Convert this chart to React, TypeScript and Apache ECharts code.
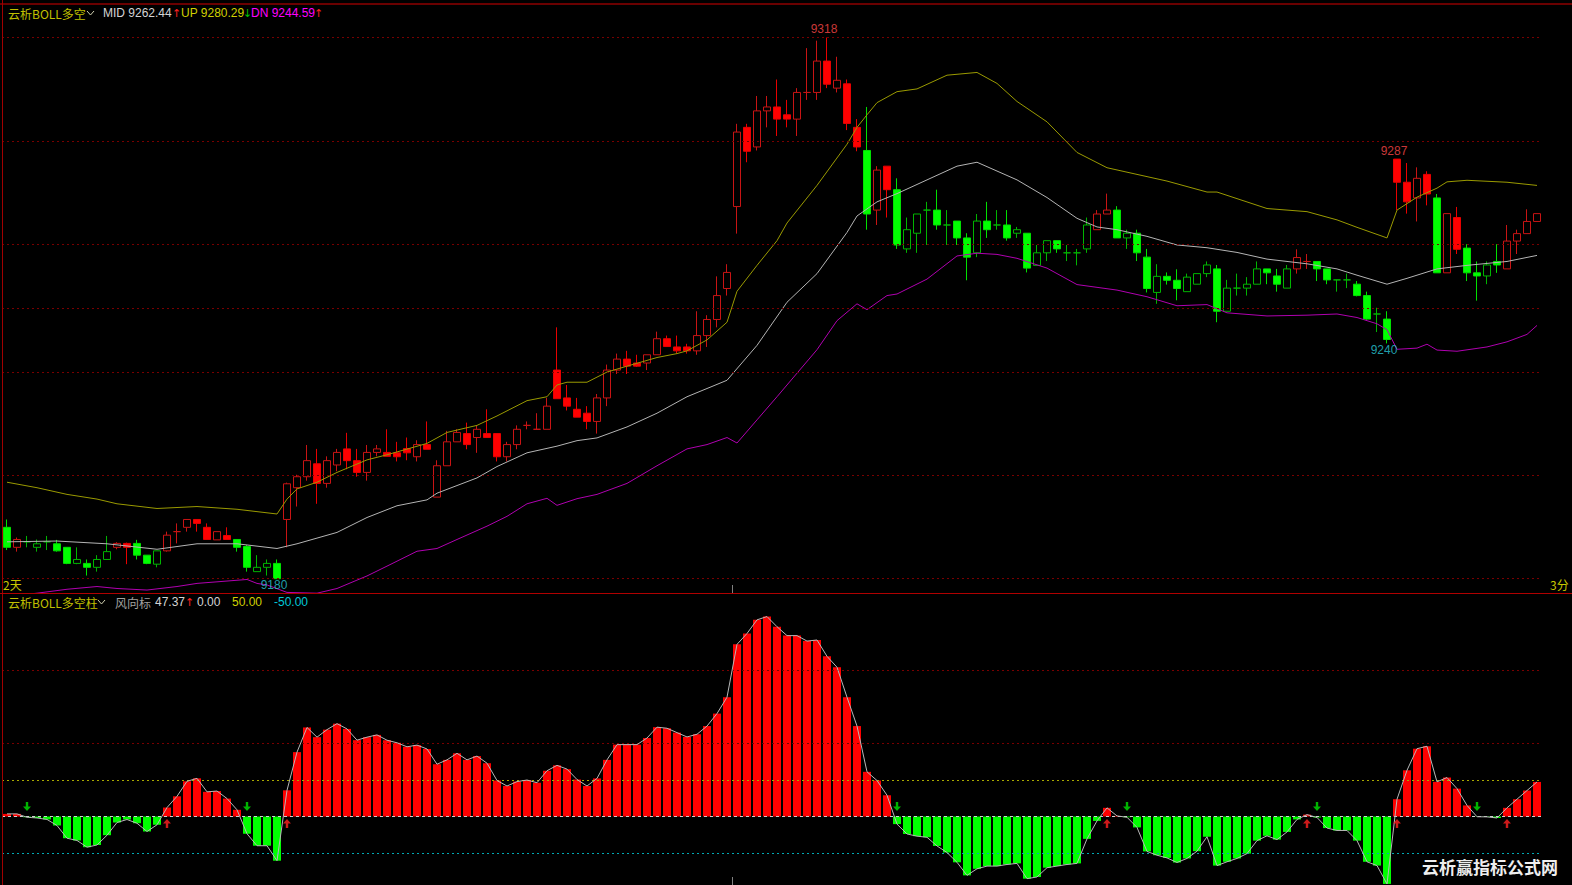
import React, { useEffect, useRef } from "react";
import * as echarts from "echarts";

// ---------- DATA ----------
const opens = [
  9193.1, 9188.0, 9189.4, 9188.0, 9189.4, 9188.9, 9188.0, 9183.9, 9183.9, 9182.9,
  9184.9, 9188.0, 9189.0, 9189.0, 9186.0, 9183.7, 9187.1, 9192.0, 9193.1, 9195.1,
  9193.1, 9189.9, 9191.0, 9190.0, 9188.2, 9181.8, 9182.9, 9183.9, 9195.1, 9203.2,
  9206.0, 9209.3, 9204.3, 9209.0, 9213.1, 9210.1, 9207.1, 9212.2, 9212.2, 9212.1,
  9213.2, 9211.1, 9214.2, 9200.8, 9208.8, 9214.9, 9217.0, 9216.0, 9217.0, 9217.0,
  9211.1, 9214.2, 9219.1, 9218.1, 9218.1, 9233.2, 9226.1, 9223.2, 9222.2, 9220.1,
  9226.1, 9233.2, 9236.0, 9235.0, 9235.0, 9237.1, 9241.2, 9239.1, 9239.1, 9238.1,
  9242.0, 9246.1, 9254.0, 9274.9, 9295.1, 9290.1, 9299.3, 9300.3, 9298.3, 9297.2,
  9304.0, 9304.0, 9312.0, 9305.1, 9306.2, 9295.1, 9289.2, 9274.0, 9285.2, 9279.2,
  9264.1, 9268.1, 9274.0, 9274.0, 9270.2, 9271.2, 9266.9, 9263.1, 9271.2, 9270.2,
  9270.2, 9268.1, 9268.1, 9259.9, 9263.1, 9266.2, 9263.1, 9263.1, 9264.1, 9269.0,
  9273.0, 9274.0, 9266.9, 9268.1, 9262.0, 9253.0, 9257.1, 9256.1, 9253.2, 9255.1,
  9257.8, 9259.0, 9248.2, 9254.1, 9254.1, 9255.1, 9259.0, 9257.2, 9254.1, 9259.0,
  9260.9, 9260.9, 9259.0, 9256.2, 9256.2, 9255.1, 9252.2, 9247.5, 9246.2, 9287.0,
  9281.1, 9277.1, 9283.1, 9277.1, 9258.0, 9272.1, 9264.3, 9258.0, 9257.2, 9260.9,
  9259.0, 9266.1, 9268.0, 9271.1,
];
const closes = [
  9188.0, 9190.0, 9189.4, 9188.9, 9189.4, 9187.1, 9183.9, 9184.9, 9182.9, 9184.9,
  9186.9, 9189.0, 9188.0, 9186.0, 9183.9, 9187.1, 9191.1, 9192.0, 9195.1, 9194.1,
  9190.0, 9192.0, 9190.0, 9188.0, 9182.9, 9182.9, 9183.9, 9180.0, 9204.2, 9206.0,
  9210.1, 9204.3, 9210.1, 9212.2, 9210.1, 9207.1, 9212.2, 9213.1, 9211.2, 9211.1,
  9212.1, 9214.2, 9213.0, 9208.8, 9214.9, 9217.3, 9214.2, 9218.1, 9216.0, 9211.1,
  9214.2, 9218.1, 9219.1, 9218.1, 9224.0, 9225.9, 9224.0, 9221.2, 9220.1, 9226.1,
  9233.2, 9236.0, 9234.2, 9234.2, 9237.1, 9241.2, 9239.2, 9238.1, 9238.1, 9242.0,
  9246.1, 9252.2, 9258.1, 9293.9, 9289.0, 9299.3, 9300.3, 9297.2, 9297.2, 9304.0,
  9304.0, 9312.0, 9306.1, 9307.1, 9296.1, 9290.1, 9273.0, 9284.2, 9279.2, 9265.1,
  9269.0, 9273.0, 9274.0, 9270.2, 9270.2, 9266.9, 9262.0, 9271.2, 9269.0, 9270.2,
  9266.9, 9269.0, 9259.2, 9263.1, 9266.2, 9264.1, 9263.1, 9263.1, 9270.2, 9273.0,
  9274.0, 9266.9, 9268.1, 9263.1, 9254.0, 9257.1, 9256.1, 9254.0, 9256.9, 9257.8,
  9260.0, 9248.2, 9254.1, 9254.1, 9255.1, 9259.0, 9258.0, 9255.1, 9259.0, 9261.9,
  9260.9, 9259.0, 9256.2, 9256.2, 9256.2, 9252.2, 9246.2, 9247.5, 9241.0, 9281.1,
  9276.1, 9282.1, 9278.1, 9258.0, 9273.1, 9264.0, 9258.0, 9257.2, 9260.0, 9260.0,
  9266.1, 9268.0, 9271.1, 9273.1,
];
const lows = [
  9187.3, 9186.9, 9188.0, 9186.9, 9187.3, 9186.9, 9183.7, 9183.7, 9180.8, 9181.8,
  9184.9, 9187.5, 9183.7, 9184.9, 9183.7, 9182.9, 9186.9, 9189.0, 9192.0, 9192.0,
  9189.9, 9189.9, 9190.0, 9186.9, 9181.8, 9181.8, 9180.8, 9180.0, 9188.0, 9198.4,
  9205.0, 9199.1, 9203.2, 9207.4, 9207.9, 9206.0, 9205.0, 9211.2, 9211.2, 9209.9,
  9210.2, 9209.9, 9213.0, 9200.8, 9208.8, 9214.9, 9213.0, 9212.1, 9216.0, 9209.9,
  9209.9, 9213.0, 9218.1, 9218.1, 9218.1, 9225.9, 9222.9, 9221.2, 9218.1, 9217.0,
  9224.0, 9232.2, 9232.2, 9234.0, 9233.2, 9237.1, 9239.2, 9237.4, 9237.4, 9237.1,
  9239.1, 9244.1, 9252.2, 9268.0, 9286.2, 9289.2, 9295.1, 9292.9, 9295.1, 9292.9,
  9302.1, 9302.1, 9305.1, 9304.0, 9294.4, 9289.0, 9269.0, 9270.2, 9272.1, 9264.1,
  9263.1, 9263.1, 9265.1, 9269.0, 9265.1, 9265.1, 9256.1, 9262.0, 9266.9, 9269.0,
  9266.2, 9266.9, 9258.1, 9259.9, 9261.0, 9263.1, 9261.0, 9259.9, 9263.1, 9269.0,
  9273.0, 9266.9, 9264.1, 9261.0, 9253.0, 9250.1, 9255.0, 9251.0, 9253.2, 9255.1,
  9256.9, 9245.4, 9248.2, 9252.2, 9252.2, 9255.1, 9255.1, 9253.2, 9254.1, 9257.8,
  9259.0, 9255.9, 9255.1, 9253.2, 9254.1, 9252.0, 9246.0, 9242.9, 9240.0, 9274.0,
  9273.1, 9271.1, 9275.2, 9258.0, 9258.0, 9262.8, 9255.9, 9250.9, 9255.1, 9258.0,
  9259.0, 9262.8, 9268.0, 9271.1,
];
const highs = [
  9195.1, 9190.5, 9190.9, 9190.0, 9190.9, 9189.9, 9188.0, 9188.0, 9184.9, 9186.0,
  9190.9, 9189.3, 9189.2, 9189.9, 9186.0, 9187.1, 9192.0, 9194.1, 9195.1, 9195.1,
  9194.1, 9192.0, 9193.1, 9190.0, 9188.6, 9186.0, 9184.9, 9184.9, 9204.5, 9206.5,
  9214.1, 9213.1, 9211.2, 9213.1, 9217.2, 9213.1, 9214.1, 9214.1, 9218.1, 9214.9,
  9216.0, 9215.3, 9220.1, 9210.2, 9217.7, 9218.1, 9219.8, 9219.1, 9223.2, 9217.0,
  9214.9, 9219.1, 9220.1, 9222.2, 9226.1, 9244.1, 9229.4, 9226.1, 9224.0, 9227.1,
  9234.6, 9237.4, 9238.1, 9237.1, 9237.1, 9243.0, 9242.0, 9242.0, 9239.9, 9248.2,
  9247.2, 9257.1, 9260.2, 9296.0, 9296.0, 9303.1, 9303.1, 9307.3, 9302.1, 9305.1,
  9315.3, 9317.2, 9318.0, 9313.1, 9307.3, 9297.2, 9300.3, 9285.2, 9285.2, 9282.1,
  9272.1, 9273.0, 9276.1, 9279.2, 9274.0, 9271.2, 9268.1, 9273.0, 9276.1, 9274.0,
  9274.0, 9269.7, 9268.1, 9265.1, 9266.2, 9266.2, 9265.1, 9264.1, 9272.1, 9274.0,
  9278.2, 9275.0, 9269.0, 9269.0, 9264.1, 9260.2, 9258.1, 9258.9, 9257.8, 9257.8,
  9260.9, 9260.0, 9256.2, 9257.8, 9256.9, 9260.9, 9259.0, 9259.0, 9260.0, 9264.0,
  9262.8, 9260.9, 9259.0, 9256.2, 9257.8, 9255.9, 9253.2, 9249.1, 9248.2, 9287.0,
  9286.0, 9284.9, 9283.9, 9278.1, 9273.1, 9274.8, 9265.3, 9260.9, 9260.9, 9265.3,
  9270.2, 9269.0, 9274.2, 9273.1,
];
// trend state per candle: r = bull (red), g = bear (green)
const trend = [
  "grgggggggg", "grrgggrrrr", "rrrgggggrr", "rrrrrrrrrr", "rrrrrrrrrr",
  "rrrrrrrrrr", "rrrrrrrrrr", "rrrrrrrrrr", "rrrrrrgrrg", "gggggggggg",
  "gggggggggr", "rggggggggg", "gggggggggr", "rggggggggr", "rrrgrrgggg", "rrrr",
];
// BOLL bands: [candle index, value]
const upperPts = [
  [0, 9204.6], [3, 9203.2], [6, 9201.5], [9, 9200.3], [11, 9199.1], [15, 9197.9], [19, 9198.4],
  [23, 9197.7], [27, 9196.5], [28, 9200.3], [29, 9202.9], [31, 9204.6], [33, 9207.1], [36, 9210.3],
  [38, 9211.6], [42, 9214.5], [44, 9217.3], [47, 9219.1], [49, 9221.5], [52, 9225.4], [54, 9226.4],
  [55, 9229.4], [56, 9230.1], [58, 9230.1], [60, 9232.7], [62, 9234.2], [65, 9236.4], [67, 9237.4],
  [68, 9238.1], [70, 9240.9], [72, 9245.4], [73, 9253.3], [75, 9259.9], [77, 9266.2], [78, 9270.7],
  [81, 9280.3], [84, 9290.8], [85, 9295.1], [86, 9298.3], [87, 9301.4], [89, 9304.2], [91, 9304.9],
  [94, 9308.4], [97, 9309.1], [99, 9306.3], [101, 9301.7], [104, 9296.5], [107, 9288.7], [110, 9284.8],
  [113, 9283.1], [116, 9281.4], [120, 9278.6], [121, 9278.6], [126, 9274.4], [130, 9273.6], [133, 9271.5],
  [135, 9269.6], [138, 9266.9], [139, 9274.0], [141, 9277.3], [143, 9279.6], [144, 9281.2], [146, 9281.6],
  [150, 9281.1], [153, 9280.29],
];
const midPts = [
  [0, 9189.4], [5, 9189.6], [10, 9188.9], [15, 9187.5], [19, 9188.9], [23, 9188.9], [27, 9187.7],
  [29, 9188.9], [33, 9191.8], [36, 9195.6], [39, 9198.6], [42, 9200.1], [43, 9201.8], [47, 9205.7],
  [49, 9208.6], [52, 9212.1], [55, 9213.8], [57, 9215.2], [59, 9215.9], [62, 9218.7], [65, 9222.2],
  [68, 9226.4], [72, 9230.6], [75, 9239.5], [78, 9250.5], [81, 9257.8], [84, 9268.3], [85, 9272.5],
  [87, 9276.1], [89, 9278.2], [92, 9281.7], [95, 9285.2], [97, 9286.2], [101, 9281.7], [104, 9277.2],
  [107, 9271.9], [109, 9269.7], [111, 9269.0], [114, 9267.3], [117, 9265.1], [120, 9264.4], [123, 9263.2],
  [126, 9261.5], [130, 9260.3], [133, 9259.0], [135, 9257.4], [138, 9255.1], [140, 9256.6], [143, 9259.0],
  [146, 9259.9], [150, 9260.9], [153, 9262.44],
];
const lowerPts = [
  [0, 9175.5], [3, 9176.3], [6, 9177.3], [9, 9178.0], [11, 9177.5], [14, 9177.1], [17, 9178.0],
  [19, 9178.8], [23, 9179.6], [24, 9179.8], [25, 9178.8], [26, 9178.4], [28, 9176.5], [31, 9176.3],
  [33, 9177.5], [36, 9180.7], [38, 9183.2], [41, 9187.0], [43, 9187.7], [45, 9190.0], [48, 9193.4],
  [50, 9195.9], [52, 9199.1], [54, 9200.5], [55, 9198.7], [57, 9200.4], [59, 9201.5], [62, 9204.3],
  [65, 9208.8], [68, 9213.1], [70, 9214.2], [72, 9216.0], [73, 9214.6], [75, 9220.5], [77, 9226.4],
  [81, 9238.4], [83, 9245.8], [85, 9250.1], [86, 9248.6], [88, 9252.2], [89, 9252.6], [92, 9256.4],
  [95, 9262.3], [97, 9263.0], [99, 9262.7], [101, 9261.7], [104, 9259.2], [107, 9255.0], [111, 9253.6],
  [114, 9251.9], [117, 9249.6], [120, 9249.9], [122, 9247.8], [126, 9247.0], [130, 9247.2], [133, 9247.5],
  [135, 9246.6], [137, 9245.0], [138, 9243.5], [139, 9238.5], [141, 9238.8], [142, 9239.8], [143, 9238.3],
  [145, 9238.0], [148, 9239.1], [150, 9240.4], [152, 9242.3], [153, 9244.59],
];
// 云析BOLL多空柱 values
const signal = [
  3.6, 3.6, -1, -2, -4, -12.3, -29.7, -32.8, -42, -39,
  -25.6, -8.2, -4.1, -9.2, -20.5, -11.3, 12.3, 27.7, 48.2, 52.3,
  33.8, 34.9, 24.6, 9.2, -23.6, -40, -40, -60.5, 35.9, 88.2,
  122, 108.7, 119, 127.2, 120, 104.6, 108.7, 111.8, 104.5, 101,
  95.5, 97.8, 92.5, 71.6, 77.6, 86.6, 77.6, 82.8, 73, 49.3,
  41.8, 47.8, 50, 46.3, 62.7, 70.1, 64.9, 50.7, 41.8, 52.2,
  77.6, 98.5, 98.5, 98.5, 107.5, 122.4, 120.9, 114.9, 109, 112.7,
  123.9, 141, 163.4, 235.8, 250.7, 269.4, 273.9, 260, 247.8, 247.8,
  240.3, 241.8, 219.4, 204.5, 163.4, 123.9, 61.2, 49.3, 29.1, -10.4,
  -23.9, -26.9, -28.4, -40.3, -49.3, -62.7, -80.6, -71.6, -67.9, -67.9,
  -65.7, -64.2, -85.1, -82.8, -70.1, -67.9, -65.7, -64.2, -30.6, -6,
  11.9, 0.8, -1, -14.9, -47.8, -53, -56.7, -63, -57.4, -47.5,
  -27.7, -67.2, -62, -57.4, -50.8, -33, -26.4, -31.6, -21.1, -4,
  2.6, -1.3, -15.8, -19.1, -19.1, -33, -62, -67.2, -92.3, 23.7,
  63.3, 92.9, 96.2, 47.5, 53.4, 38.2, 15.2, -0.3, -0.5, -2,
  11.9, 23.7, 35.6, 47.37,
];
const downSignals = [2, 24, 89, 112, 131, 147];
const upSignals = [16, 28, 110, 130, 139, 150];
const peakIdx = [82, 139];
const troughIdx = [27, 138];
const fibRatios = [0, 0.191, 0.382, 0.5, 0.618, 0.809, 1];
const dayBreakIdx = 73;
const headerMid = "9262.44";
const headerUp = "9280.29";
const headerDn = "9244.59";
const headerWind = "47.37";

const FONT = '"Liberation Sans", "Noto Sans CJK SC", sans-serif';
const CJK = '"Noto Sans CJK SC", "Liberation Sans", sans-serif';

const GRID_LEFT = 2;
const BAND = 10;

// candle styles: [trend][hollow|filled]
const STYLE: any = {
  r: {
    hollow: { fill: "#000000", stroke: "#c81414" },
    filled: { fill: "#ff0000", stroke: "#e80000" },
  },
  g: {
    hollow: { fill: "#000000", stroke: "#00b400" },
    filled: { fill: "#00ff00", stroke: "#00e000" },
  },
};

function txt(x: number, y: number, text: string, fill: string, extra: any = {}) {
  return {
    type: "text",
    x,
    y,
    silent: true,
    z: 100,
    style: {
      text,
      fill,
      fontSize: 12,
      fontFamily: FONT,
      verticalAlign: "middle",
      ...extra,
    },
  };
}
function hline(x1: number, x2: number, y: number, stroke: string, w = 1) {
  return { type: "line", silent: true, z: 90, shape: { x1, y1: y, x2, y2: y }, style: { stroke, lineWidth: w } };
}
function vline(x: number, y1: number, y2: number, stroke: string, w = 1) {
  return { type: "line", silent: true, z: 90, shape: { x1: x, y1, x2: x, y2 }, style: { stroke, lineWidth: w } };
}

export default function App() {
  const ref = useRef<HTMLDivElement>(null);
  useEffect(() => {
    const chart = echarts.init(ref.current!, null, { renderer: "svg" });
    const cats = opens.map((_, i) => String(i));
    const tr = trend.join("");
    const candleData = opens.map((o, i) => {
      const st = STYLE[tr[i]][closes[i] >= o ? "hollow" : "filled"];
      return {
        value: [o, closes[i], lows[i], highs[i]],
        itemStyle: { color: st.fill, color0: st.fill, borderColor: st.stroke, borderColor0: st.stroke },
      };
    });
    const hi = Math.max(...highs);
    const lo = Math.min(...lows);
    const fibLines = fibRatios.map((r) => ({ yAxis: lo + (hi - lo) * r }));
    const extremeLabels = [
      ...peakIdx.map((i) => ({
        value: [i, highs[i]],
        label: { position: "top", distance: 2, color: "#ff4848", formatter: String(Math.round(highs[i])), offset: [-3, 0] },
      })),
      ...troughIdx.map((i) => ({
        value: [i, lows[i]],
        label: { position: "bottom", distance: 0, color: "#28c8d8", formatter: String(Math.round(lows[i])), offset: [-3, 0] },
      })),
    ];
    const xAxisCommon = {
      type: "category",
      data: cats,
      boundaryGap: true,
      axisLine: { show: false },
      axisLabel: { show: false },
      splitLine: { show: false },
      axisTick: { show: false },
    };
    const downArrow = "path://M3.5,0 L6.5,0 L6.5,5 L10,5 L5,10 L0,5 L3.5,5 Z";
    const upArrow = "path://M5,0 L10,5 L6.5,5 L6.5,10 L3.5,10 L3.5,5 L0,5 Z";
    const breakX = GRID_LEFT + dayBreakIdx * BAND + 0.5;

    const option: any = {
      animation: false,
      backgroundColor: "#000000",
      grid: [
        { left: GRID_LEFT, top: 5, width: 154 * BAND, height: 588 },
        { left: GRID_LEFT, top: 594, width: 154 * BAND, height: 291 },
      ],
      xAxis: [
        { ...xAxisCommon, gridIndex: 0 },
        { ...xAxisCommon, gridIndex: 1 },
      ],
      yAxis: [
        { type: "value", gridIndex: 0, min: 9176.35, max: 9326.3, show: false, scale: true },
        { type: "value", gridIndex: 1, min: -93.8, max: 304.8, show: false },
      ],
      series: [
        {
          type: "candlestick",
          xAxisIndex: 0,
          yAxisIndex: 0,
          barWidth: 8,
          data: candleData,
          z: 3,
          markLine: {
            silent: true,
            symbol: "none",
            label: { show: false },
            lineStyle: { color: "#780000", type: [2, 3], width: 1 },
            data: fibLines,
          },
        },
        {
          type: "line",
          xAxisIndex: 0,
          yAxisIndex: 0,
          data: upperPts,
          symbol: "none",
          lineStyle: { color: "#9a9a00", width: 1 },
          z: 4,
        },
        {
          type: "line",
          xAxisIndex: 0,
          yAxisIndex: 0,
          data: midPts,
          symbol: "none",
          lineStyle: { color: "#b4b4b4", width: 1 },
          z: 4,
        },
        {
          type: "line",
          xAxisIndex: 0,
          yAxisIndex: 0,
          data: lowerPts,
          symbol: "none",
          lineStyle: { color: "#b000b0", width: 1 },
          z: 4,
        },
        {
          type: "scatter",
          xAxisIndex: 0,
          yAxisIndex: 0,
          symbol: "circle",
          symbolSize: 1,
          itemStyle: { color: "rgba(0,0,0,0)" },
          label: { show: true, fontSize: 12, fontFamily: FONT },
          data: extremeLabels,
          z: 6,
        },
        {
          type: "bar",
          xAxisIndex: 1,
          yAxisIndex: 1,
          barWidth: 8,
          data: signal.map((v) => ({ value: v, itemStyle: { color: v >= 0 ? "#ff0000" : "#00ff00" } })),
          z: 2,
          markLine: {
            silent: true,
            symbol: "none",
            label: { show: false },
            lineStyle: { type: [2, 3], width: 1 },
            data: [
              { yAxis: 200, lineStyle: { color: "#780000" } },
              { yAxis: 100, lineStyle: { color: "#780000" } },
              { yAxis: 50, lineStyle: { color: "#a8a800" } },
              { yAxis: 0, lineStyle: { color: "#d0d0d0", type: [3, 3] } },
              { yAxis: -50, lineStyle: { color: "#00a8b4" } },
            ],
          },
        },
        {
          type: "line",
          xAxisIndex: 1,
          yAxisIndex: 1,
          data: signal,
          symbol: "none",
          lineStyle: { color: "#b8b8b8", width: 1 },
          z: 5,
        },
        {
          type: "scatter",
          xAxisIndex: 1,
          yAxisIndex: 1,
          symbol: downArrow,
          symbolSize: [8, 9],
          symbolOffset: [0, -10],
          itemStyle: { color: "#00e000" },
          data: downSignals.map((i) => [i, 0]),
          z: 6,
        },
        {
          type: "scatter",
          xAxisIndex: 1,
          yAxisIndex: 1,
          symbol: upArrow,
          symbolSize: [8, 9],
          symbolOffset: [0, 7],
          itemStyle: { color: "#ff2020" },
          data: upSignals.map((i) => [i, 0]),
          z: 6,
        },
      ],
      graphic: [
        hline(0, 1572, 4, "#6a0000", 2),
        vline(2.5, 0, 885, "#a00000", 1),
        hline(0, 1572, 593.5, "#b00000", 1),
        // day-break ticks
        vline(breakX, 585, 593, "#808080", 1),
        vline(breakX, 877, 885, "#808080", 1),
        // top header
        txt(8, 13, "云析BOLL多空", "#c0c000", { fontFamily: CJK }),
        { type: "polyline", silent: true, z: 100, shape: { points: [[87, 11], [90.5, 15], [94, 11]] }, style: { stroke: "#d0d0b0", fill: null, lineWidth: 1 } },
        txt(103, 13, "MID " + headerMid, "#d4d4d4"),
        txt(172, 13, "↑", "#ff2020", { fontFamily: "DejaVu Sans", fontSize: 11 }),
        txt(181, 13, "UP " + headerUp, "#d0d000"),
        txt(243, 13, "↓", "#00c000", { fontFamily: "DejaVu Sans", fontSize: 11 }),
        txt(251, 13, "DN " + headerDn, "#ff00ff"),
        txt(314, 13, "↑", "#ff2020", { fontFamily: "DejaVu Sans", fontSize: 11 }),
        // bottom header
        txt(8, 602, "云析BOLL多空柱", "#c0c000", { fontFamily: CJK }),
        { type: "polyline", silent: true, z: 100, shape: { points: [[98, 600], [101.5, 604], [105, 600]] }, style: { stroke: "#d0d0b0", fill: null, lineWidth: 1 } },
        txt(115, 602, "风向标", "#a0a0a0", { fontFamily: CJK }),
        txt(155, 602, headerWind, "#d4d4d4"),
        txt(185, 602, "↑", "#ff2020", { fontFamily: "DejaVu Sans", fontSize: 11 }),
        txt(197, 602, "0.00", "#d4d4d4"),
        txt(232, 602, "50.00", "#d0d000"),
        txt(274, 602, "-50.00", "#00c8d8"),
        // period labels
        txt(3, 584, "2天", "#c8c800", { fontFamily: CJK }),
        txt(1550, 584, "3分", "#c8c800", { fontFamily: CJK }),
        // watermark
        txt(1422, 866, "云析赢指标公式网", "#eeeeee", {
          fontFamily: CJK,
          fontSize: 17,
          fontWeight: "bold",
          textShadowColor: "#707070",
          textShadowOffsetX: 1,
          textShadowOffsetY: 1,
          textShadowBlur: 0,
        }),
      ],
    };
    chart.setOption(option);
    return () => chart.dispose();
  }, []);
  return (
    <div
      ref={ref}
      style={{ position: "fixed", left: 0, top: 0, width: 1572, height: 885, background: "#000000" }}
    />
  );
}
